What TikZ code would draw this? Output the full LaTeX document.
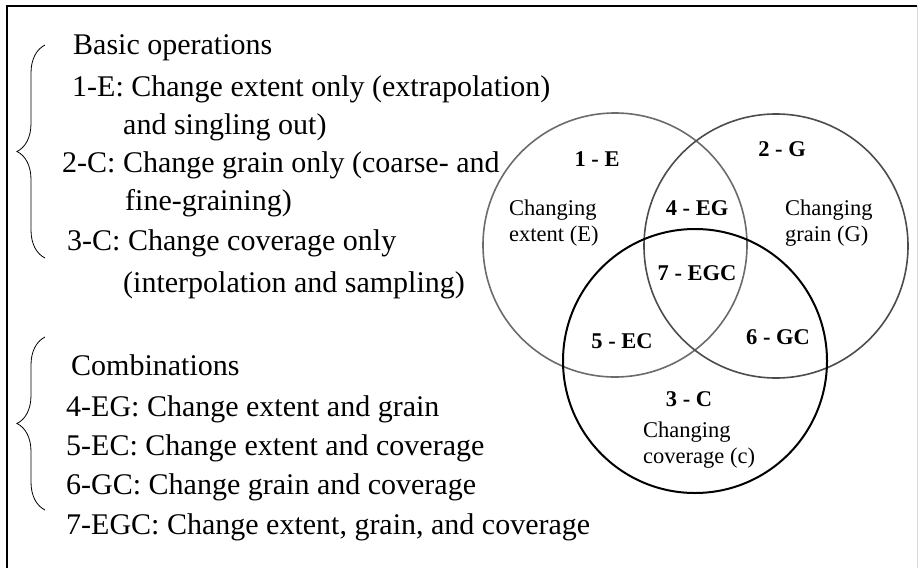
\documentclass[tikz,border=0pt]{standalone}
\usepackage{fontspec}
\setmainfont{Liberation Serif}
\usepackage{tikz}
\usetikzlibrary{decorations.pathreplacing}
\usepackage{xcolor}
\definecolor{ringE}{gray}{0.42}
\definecolor{ringG}{gray}{0.30}
\tikzset{%
	list item/.style={
		anchor=base west,
		inner sep=0pt,
		font=\fontsize{30}{40}\selectfont
	},
	venn ring/.style={
		circle,
		draw,
		minimum size=264pt,
		inner sep=0pt
	},
	venn code/.style={
		inner sep=0pt,
		font=\fontsize{22.5}{27}\selectfont\bfseries
	},
	venn text/.style={
		anchor=base west,
		align=left,
		inner sep=0pt,
		font=\fontsize{22.5}{26}\selectfont
	},
	group brace/.style={
		decorate,
		decoration={brace, amplitude=28pt},
		line width=0.8pt
	},
}
\begin{document}
\begin{tikzpicture}[x=1pt, y=-1pt]
			\useasboundingbox (0,0) rectangle (918,568);
			
			\draw[line width=1.5pt] (7,568) -- (7,6) -- (917,6);
			\draw[black!15, line width=0.8pt] (917,6) -- (917,568);
			
			\draw[group brace] (45,258) -- (45,45);
			\node[list item] (basic) at (73,54) {Basic operations};
			\node[list item] (opE) at (72,96) {1-E: Change extent only (extrapolation)};
			\node[list item] (opEb) at (123,134) {and singling out)};
			\node[list item] (opG) at (62,172) {2-C: Change grain only (coarse- and};
			\node[list item] (opGb) at (125,210) {fine-graining)};
			\node[list item] (opC) at (67,250) {3-C: Change coverage only};
			\node[list item] (opCb) at (123,292) {(interpolation and sampling)};
			
			\draw[group brace] (45,510) -- (45,337);
			\node[list item] (comb) at (71,375) {Combinations};
			\node[list item] (opEG) at (66,416) {4-EG: Change extent and grain};
			\node[list item] (opEC) at (66,455) {5-EC: Change extent and coverage};
			\node[list item] (opGC) at (66,494) {6-GC: Change grain and coverage};
			\node[list item] (opEGC) at (66,534) {7-EGC: Change extent, grain, and coverage};
			
			\node[venn ring, draw=ringE, line width=1.6pt] (ringE) at (615,245) {};
			\node[venn ring, draw=ringG, line width=1.6pt] (ringG) at (776,246) {};
			\node[venn ring, draw=black, line width=2pt] (ringC) at (695,361) {};
			
			\node[venn code] (codeE) at (597,159) {1 - E};
			\node[venn code] (codeG) at (782,149) {2 - G};
			\node[venn code] (codeEG) at (697,208) {4 - EG};
			\node[venn code] (codeEGC) at (697,273) {7 - EGC};
			\node[venn code] (codeEC) at (622,341) {5 - EC};
			\node[venn code] (codeGC) at (778,337) {6 - GC};
			\node[venn code] (codeC) at (689,399) {3 - C};
			
			\node[venn text] (textE) at (509,241) {Changing\\extent (E)};
			\node[venn text] (textG) at (785,241) {Changing\\grain (G)};
			\node[venn text] (textC) at (643,463) {Changing\\coverage (c)};
		\end{tikzpicture}
\end{document}
